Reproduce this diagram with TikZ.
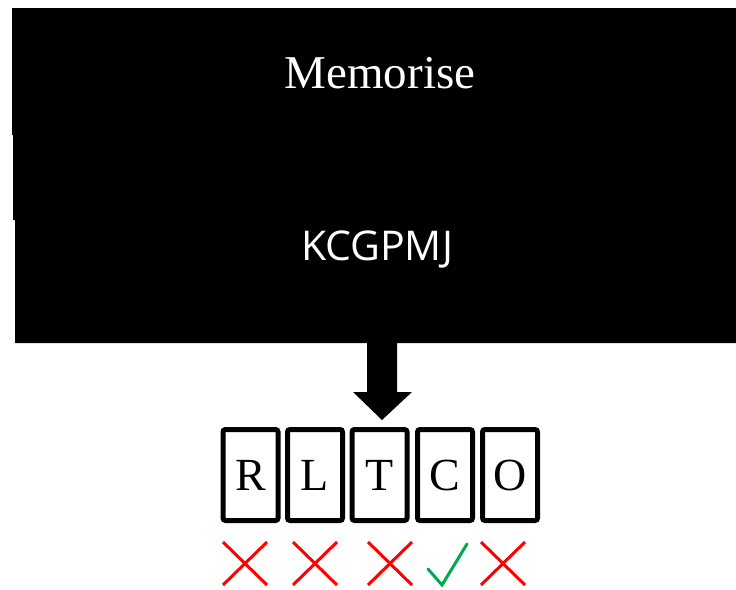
\documentclass[tikz,border=0pt]{standalone}
\usepackage{fontspec}
\setmainfont{Liberation Serif}
\newfontfamily\cuesans{Open Sans}
\begin{document}
\begin{tikzpicture}[x=1pt,y=-1pt,
  letterbox/.style={draw=black, line width=5pt, rounded corners=2.5pt, minimum width=55pt, minimum height=91pt, inner sep=0pt, font=\fontsize{46}{46}\selectfont},
  wrongmark/.style={draw=red, line width=3pt},
  rightmark/.style={draw={rgb,255:red,0;green,170;blue,80}, line width=3pt, line cap=round}
]
\useasboundingbox (0,0) rectangle (736,589);
% stimulus panel
\fill[black] (12,8) -- (736,8) -- (736,343) -- (15,343) -- (15,220) -- (13,220) -- (13,135) -- (12,135) -- cycle;
\node[text=white, font=\fontsize{47}{47}\selectfont] (title) at (380,73) {Memorise};
\node[text=white, font=\cuesans\fontsize{41}{41}\selectfont] (cue) at (377,250) {KCGPMJ};
% downward arrow
\fill[black] (367,343) -- (397,343) -- (397,392) -- (412,392) -- (382,420) -- (353,392) -- (367,392) -- cycle;
% answer options
\node[letterbox] (b1) at (250.5,475) {R};
\node[letterbox] (b2) at (315,475) {L};
\node[letterbox] (b3) at (379.5,475) {T};
\node[letterbox] (b4) at (445,475) {C};
\node[letterbox] (b5) at (510,475) {O};
% feedback marks
\foreach \n/\cx in {1/245, 2/315, 3/390, 5/503} {
  \draw[wrongmark] (\cx-22,542) -- (\cx+22,585) (\cx+22,542) -- (\cx-22,585);
}
\draw[rightmark] (428,569) -- (442,585) -- (467,544);
\end{tikzpicture}
\end{document}
